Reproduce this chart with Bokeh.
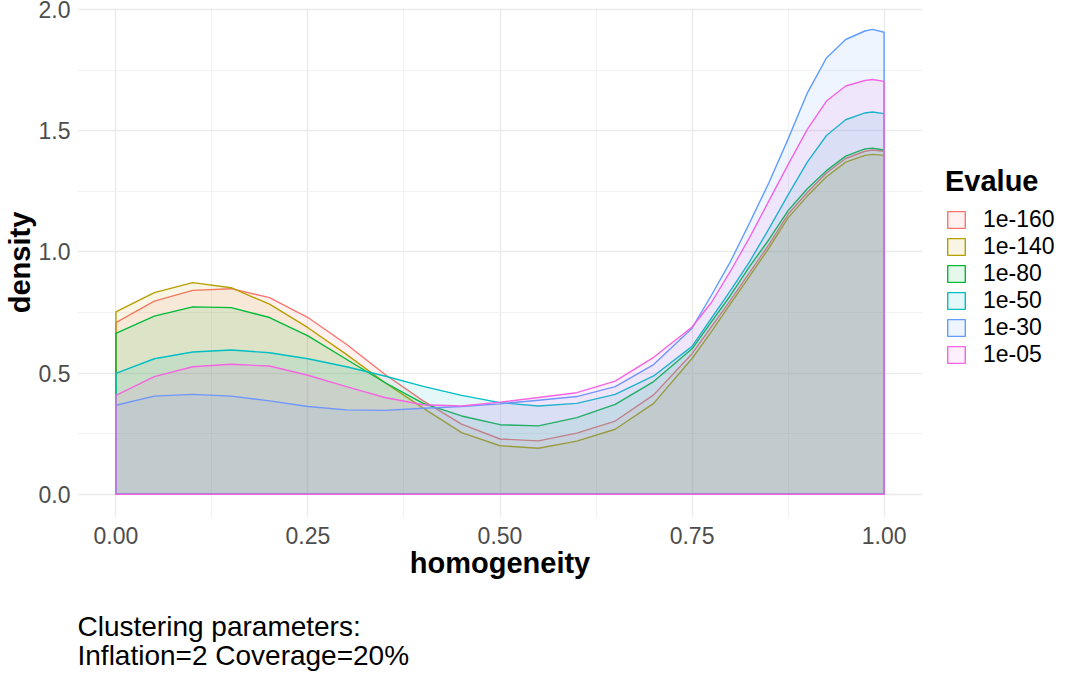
from bokeh.plotting import figure
from bokeh.models import (Range1d, FixedTicker, PrintfTickFormatter, Legend,
                          LegendItem, Title)
from bokeh.embed import file_html
from bokeh.resources import INLINE

# ---------------- data ----------------
homogeneity = [0.0, 0.05, 0.1, 0.15, 0.2, 0.25, 0.3, 0.35, 0.4, 0.45, 0.5,
               0.55, 0.6, 0.65, 0.7, 0.75, 0.775, 0.8, 0.825, 0.85, 0.875,
               0.9, 0.925, 0.95, 0.975, 0.985, 1.0]

evalue_levels = ["1e-160", "1e-140", "1e-80", "1e-50", "1e-30", "1e-05"]

density_1e160 = [0.708, 0.797, 0.841, 0.848, 0.811, 0.729, 0.619, 0.495, 0.385,
                 0.289, 0.228, 0.220, 0.252, 0.302, 0.410, 0.580, 0.690, 0.800,
                 0.915, 1.030, 1.155, 1.245, 1.325, 1.385, 1.415, 1.420, 1.415]
density_1e140 = [0.752, 0.832, 0.873, 0.852, 0.784, 0.687, 0.577, 0.461, 0.355,
                 0.254, 0.200, 0.190, 0.219, 0.268, 0.375, 0.560, 0.670, 0.785,
                 0.900, 1.015, 1.140, 1.230, 1.310, 1.370, 1.398, 1.402, 1.398]
density_1e80 = [0.664, 0.735, 0.773, 0.770, 0.729, 0.653, 0.557, 0.461, 0.375,
                0.323, 0.287, 0.282, 0.316, 0.371, 0.465, 0.600, 0.710, 0.820,
                0.940, 1.050, 1.170, 1.260, 1.335, 1.395, 1.425, 1.428, 1.420]
density_1e50 = [0.499, 0.559, 0.587, 0.595, 0.584, 0.559, 0.526, 0.488, 0.445,
                0.408, 0.378, 0.364, 0.375, 0.412, 0.488, 0.610, 0.725, 0.840,
                0.960, 1.095, 1.235, 1.370, 1.480, 1.545, 1.573, 1.577, 1.570]
density_1e30 = [0.367, 0.405, 0.412, 0.405, 0.385, 0.362, 0.348, 0.346, 0.355,
                0.362, 0.373, 0.388, 0.403, 0.444, 0.535, 0.685, 0.820, 0.960,
                1.120, 1.285, 1.465, 1.655, 1.800, 1.876, 1.911, 1.918, 1.906]
density_1e05 = [0.408, 0.485, 0.526, 0.536, 0.529, 0.491, 0.444, 0.399, 0.369,
                0.364, 0.380, 0.399, 0.419, 0.467, 0.565, 0.690, 0.790, 0.920,
                1.060, 1.210, 1.360, 1.505, 1.622, 1.684, 1.707, 1.711, 1.703]

densities = [density_1e160, density_1e140, density_1e80,
             density_1e50, density_1e30, density_1e05]

palette = ["#F8766D", "#B79F00", "#00BA38", "#00BFC4", "#619CFF", "#F564E3"]

x_major = [0.0, 0.25, 0.5, 0.75, 1.0]
x_minor = [0.125, 0.375, 0.625, 0.875]
y_major = [0.0, 0.5, 1.0, 1.5, 2.0]
y_minor = [0.25, 0.75, 1.25, 1.75]

x_title = "homogeneity"
y_title = "density"
legend_title = "Evalue"
caption_text = "Clustering parameters:\nInflation=2 Coverage=20%"

FONT = "Liberation Sans"

# ---------------- figure ----------------
p = figure(frame_width=845, frame_height=510,
           x_range=Range1d(-0.05, 1.05), y_range=Range1d(-0.0959, 2.008),
           output_backend="svg", toolbar_location=None,
           min_border_left=71, min_border_right=151,
           min_border_top=7, min_border_bottom=100)
p.outline_line_color = None
p.background_fill_color = "white"
p.border_fill_color = "white"

xt = FixedTicker(ticks=x_major, minor_ticks=x_minor)
yt = FixedTicker(ticks=y_major, minor_ticks=y_minor)
p.xaxis.ticker = xt
p.yaxis.ticker = yt
p.xgrid.ticker = xt
p.ygrid.ticker = yt
p.xaxis.formatter = PrintfTickFormatter(format="%.2f")
p.yaxis.formatter = PrintfTickFormatter(format="%.1f")

for g in (p.xgrid, p.ygrid):
    g.grid_line_color = "#EBEBEB"
    g.grid_line_width = 1.4
    g.minor_grid_line_color = "#EFEFEF"
    g.minor_grid_line_width = 0.8

for ax in (p.xaxis, p.yaxis):
    ax.axis_line_color = None
    ax.major_tick_line_color = None
    ax.minor_tick_line_color = None
    ax.major_tick_out = 0
    ax.major_tick_in = 0
    ax.minor_tick_out = 0
    ax.major_label_text_font = FONT
    ax.major_label_text_font_size = "23px"
    ax.major_label_text_color = "#4D4D4D"
    ax.axis_label_text_font = FONT
    ax.axis_label_text_font_size = "29px"
    ax.axis_label_text_font_style = "bold"
    ax.axis_label_text_color = "black"

p.xaxis.axis_label = x_title
p.yaxis.axis_label = y_title
p.xaxis.major_label_standoff = 9
p.yaxis.major_label_standoff = 7
p.xaxis.axis_label_standoff = 0
p.yaxis.axis_label_standoff = 0

renderers = []
for name, dens, col in zip(evalue_levels, densities, palette):
    xs = homogeneity + [homogeneity[-1], homogeneity[0]]
    ys = dens + [0.0, 0.0]
    r = p.patch(x=xs, y=ys, fill_color=col, fill_alpha=0.1,
                line_color=col, line_width=1.4)
    renderers.append((name, r))

legend = Legend(items=[LegendItem(label=n, renderers=[r]) for n, r in renderers],
                location=(23, 149))
legend.title = legend_title
legend.title_text_font = FONT
legend.title_text_font_size = "29px"
legend.title_text_font_style = "bold"
legend.title_text_color = "black"
legend.title_standoff = 8
legend.label_text_font = FONT
legend.label_text_font_size = "23px"
legend.label_text_line_height = 1.0
legend.label_text_color = "black"
legend.label_standoff = 16
legend.glyph_width = 22
legend.glyph_height = 21
legend.label_height = 21
legend.spacing = 0
legend.padding = 0
legend.margin = 0
legend.border_line_color = None
legend.background_fill_alpha = 0
p.add_layout(legend, "right")

caption = Title(text=caption_text, align="left", text_font=FONT,
                text_font_size="28px", text_font_style="normal",
                text_color="black", text_line_height=0.93, standoff=55)
p.add_layout(caption, "below")

open("out.html", "w").write(file_html(p, INLINE))
